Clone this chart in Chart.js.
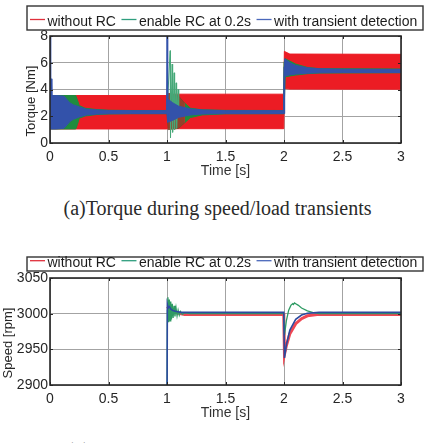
<!DOCTYPE html>
<html><head><meta charset="utf-8">
<script src="https://cdn.jsdelivr.net/npm/chart.js@4.4.1/dist/chart.umd.min.js"></script>
<style>
html,body{margin:0;padding:0;background:#fff;overflow:hidden;width:429px;height:443px;}
#wrap{position:relative;width:429px;height:443px;overflow:hidden;}
canvas{position:absolute;left:0;}
.cap{position:absolute;left:3px;width:429px;text-align:center;font-family:'Liberation Serif','Times New Roman',serif;font-size:20px;line-height:18px;color:#2a2a2a;white-space:nowrap;}
</style></head><body>
<div id="wrap">
<canvas id="c1" width="429" height="195" style="top:0px"></canvas>
<div class="cap" style="top:199px">(a)Torque during speed/load transients</div>
<canvas id="c2" width="429" height="195" style="top:242px"></canvas>
<div class="cap" style="top:441px">(b)Speed during speed/load transients</div>
</div>
<script>
// ---------- labels / ticks ----------
const seriesNames = ['without RC', 'enable RC at 0.2s', 'with transient detection'];
const xTicks = [0, 0.5, 1, 1.5, 2, 2.5, 3];
const torqueTicks = [0, 2, 4, 6, 8];
const speedTicks = [2900, 2950, 3000, 3050];

// ---------- torque (envelopes of the dense ripple) ----------
// without RC
const tRed   = [0, 0.998, 1.004, 1.05, 1.998, 2.003, 2.05, 3.0];
const redHi  = [3.55, 3.55, 3.72, 3.65, 3.65, 6.85, 6.65, 6.63];
const redLo  = [1.05, 1.05, 1.06, 1.07, 1.07, 4.08, 4.03, 4.02];
// enable RC at 0.2s
const tGreen  = [0, 0.22, 0.235, 0.25, 0.3, 0.4, 0.5, 0.7, 0.996, 1.0, 1.01, 1.1, 1.15, 1.2, 1.3, 1.5, 1.996, 2.0, 2.01, 2.1, 2.2, 2.3, 3.0];
const greenHi = [3.55, 3.55, 3.2, 2.8, 2.6, 2.5, 2.45, 2.43, 2.43, 2.43, 3.7, 3.5, 3.0, 2.6, 2.48, 2.44, 2.43, 6.0, 6.3, 5.9, 5.65, 5.56, 5.53];
const greenLo = [1.05, 1.05, 1.4, 1.85, 2.02, 2.13, 2.17, 2.19, 2.19, 2.19, 1.0, 1.1, 1.5, 1.9, 2.1, 2.18, 2.19, 2.19, 4.95, 5.08, 5.18, 5.23, 5.25];
const tGreenSpike = [1.0, 1.004, 1.027, 1.03, 1.035, 1.044, 1.048, 1.053, 1.061, 1.065, 1.07, 1.078, 1.082, 1.087, 1.095, 1.1];
const greenSpike  = [2.3, 2.3, 6.9, 0.4, 2.3, 5.9, 0.8, 2.3, 5.25, 1.0, 2.3, 4.5, 1.1, 2.3, 4.0, 2.3];
// with transient detection
const tBlue  = [0, 0.004, 0.008, 0.012, 0.016, 0.05, 0.12, 0.145, 0.17, 0.2, 0.25, 0.31, 0.4, 0.5, 0.7, 0.996, 1.0, 1.006, 1.05, 1.1, 1.2, 1.3, 1.5, 1.996, 2.0, 2.006, 2.05, 2.1, 2.2, 2.3, 2.5, 3.0];
const blueHi = [8, 8, 3.55, 4.8, 3.55, 3.55, 3.5, 3.25, 3.0, 2.85, 2.7, 2.53, 2.47, 2.43, 2.42, 2.42, 8, 3.3, 3.0, 2.75, 2.55, 2.47, 2.42, 2.42, 5.7, 6.3, 6.0, 5.8, 5.62, 5.55, 5.52, 5.5];
const blueLo = [1.05, 1.05, 1.05, 1.05, 1.05, 1.05, 1.1, 1.35, 1.6, 1.77, 1.95, 2.09, 2.16, 2.19, 2.2, 2.2, 2.2, 1.55, 1.7, 1.92, 2.1, 2.17, 2.2, 2.2, 2.2, 5.0, 5.1, 5.15, 5.22, 5.25, 5.27, 5.27];

// ---------- speed ----------
const tSpeedRed = [1.003, 1.02, 1.05, 1.1, 1.15, 1.998, 2.004, 2.02, 2.05, 2.1, 2.15, 2.2, 2.3, 3.0];
const speedRed  = [3010, 3006, 3003, 3000.5, 2999, 2999, 2943, 2955, 2972, 2986, 2993, 2997, 2999, 2999];
const tSpeedGreen = [0, 0.999, 1.003, 1.008, 1.014, 1.02, 1.026, 1.032, 1.038, 1.045, 1.052, 1.06, 1.068, 1.077, 1.086, 1.095, 1.105, 1.115, 1.13, 1.15, 1.2, 1.998, 2.004, 2.02, 2.04, 2.06, 2.075, 2.08, 2.09, 2.1, 2.12, 2.15, 2.2, 2.25, 2.3, 3.0];
const speedGreen  = [2800, 2800, 3005, 3023, 2988, 3020, 2990, 3017, 2992, 3014, 2994, 3011, 2996, 3008, 2997, 3005, 2998, 3003, 2999, 3001, 3000, 3000, 2970, 2990, 3005, 3012, 3014, 3013, 3015, 3014, 3012, 3008, 3004, 3001.5, 3000, 3000];
const tSpeedBlue = [0, 0.999, 1.003, 1.01, 1.02, 1.035, 1.05, 1.08, 1.12, 1.998, 2.004, 2.02, 2.05, 2.1, 2.15, 2.2, 2.3, 3.0];
const speedBlue  = [2800, 2800, 3013, 3008, 3010, 3006, 3004.5, 3003, 3001.8, 3001.8, 2938, 2956, 2977, 2992, 2998, 3000.5, 3001.8, 3001.8];

// ---------- helpers ----------
const FONT = '"Liberation Sans", Arial, Helvetica, sans-serif';
const legendColors = ['#e0303c', '#2f9e7e', '#4a68bb'];
function pts(t, v) { return t.map((x, i) => ({x: x, y: v[i]})); }

const framePlugin = {
  id: 'frame',
  afterDraw(chart, args, o) {
    const ctx = chart.ctx, a = chart.chartArea;
    ctx.save();
    ctx.strokeStyle = '#262626'; ctx.lineWidth = 1;
    const xs = chart.scales.x, ys = chart.scales.y;
    xs.ticks.forEach(tk => {
      const px = Math.round(xs.getPixelForValue(tk.value)) + 0.5;
      ctx.beginPath(); ctx.moveTo(px, a.bottom); ctx.lineTo(px, a.bottom - 3);
      ctx.moveTo(px, a.top); ctx.lineTo(px, a.top + 3); ctx.stroke();
    });
    ys.ticks.forEach(tk => {
      const py = Math.round(ys.getPixelForValue(tk.value)) + 0.5;
      ctx.beginPath(); ctx.moveTo(a.left, py); ctx.lineTo(a.left + 3, py);
      ctx.moveTo(a.right, py); ctx.lineTo(a.right - 3, py); ctx.stroke();
    });
    ctx.strokeStyle = '#262626'; ctx.lineWidth = 1.6;
    ctx.strokeRect(a.left, a.top, a.right - a.left, a.bottom - a.top);
    ctx.lineWidth = 1.4; ctx.strokeStyle = '#333';
    ctx.strokeRect(o.boxLeft, o.boxTop, o.boxRight - o.boxLeft, o.boxBottom - o.boxTop);
    ctx.font = '14px ' + FONT;
    ctx.textBaseline = 'alphabetic'; ctx.textAlign = 'left';
    let x = 30;
    seriesNames.forEach((name, i) => {
      ctx.strokeStyle = legendColors[i]; ctx.lineWidth = 1.3;
      ctx.beginPath(); ctx.moveTo(x, o.lineY); ctx.lineTo(x + 15, o.lineY); ctx.stroke();
      x += 17.5;
      ctx.fillStyle = '#1c1c1c';
      ctx.fillText(name, x, o.baseline);
      x += ctx.measureText(name).width + 5.5;
    });
    ctx.translate(o.yTitleX, o.yTitleY); ctx.rotate(-Math.PI / 2);
    ctx.textAlign = 'center'; ctx.textBaseline = 'middle';
    ctx.font = '13px ' + FONT; ctx.fillStyle = '#262626';
    ctx.fillText(o.yTitle, 0, 0);
    ctx.restore();
  }
};

function baseOptions(yMin, yMax, yTickArr, frameOpts) {
  return {
    responsive: false, animation: false, devicePixelRatio: 1,
    layout: {padding: {left: 0, right: 28, top: 36, bottom: 15}},
    plugins: {legend: {display: false}, tooltip: {enabled: false}, frame: frameOpts},
    elements: {point: {radius: 0, hoverRadius: 0}, line: {tension: 0, borderWidth: 1}},
    scales: {
      x: {
        type: 'linear', min: 0, max: 3,
        afterBuildTicks: s => { s.ticks = xTicks.map(v => ({value: v})); },
        afterFit: s => { s.height = 37; },
        grid: {color: '#a3a3a3', lineWidth: 1, drawTicks: false},
        border: {display: false},
        ticks: {padding: 6, color: '#262626', font: {size: 14, family: FONT}, maxRotation: 0, autoSkip: false,
                callback: v => String(v)},
        title: {display: true, text: 'Time [s]', color: '#333', font: {size: 14, family: FONT}, padding: 0}
      },
      y: {
        type: 'linear', min: yMin, max: yMax,
        afterBuildTicks: s => { s.ticks = yTickArr.map(v => ({value: v})); },
        afterFit: s => { s.width = 50; },
        grid: {color: '#a3a3a3', lineWidth: 1, drawTicks: false},
        border: {display: false},
        ticks: {padding: 2, color: '#262626', font: {size: 14, family: FONT}, autoSkip: false,
                callback: v => String(v)}
      }
    }
  };
}

const RED = '#ec1c24', GREEN = '#1f8c3e', GREEN_L = '#46a878', BLUE = '#3352aa';
const mixedGreen = c => (c.p0.parsed.x >= 1.0 && c.p1.parsed.x <= 1.15) ? 'rgba(40,110,50,0.45)' : undefined;

new Chart(document.getElementById('c1'), {
  type: 'line',
  data: {
    datasets: [
      {data: pts(tBlue, blueHi), borderColor: BLUE, backgroundColor: BLUE, fill: false, clip: 0},
      {data: pts(tBlue, blueLo), borderColor: BLUE, backgroundColor: BLUE, fill: 0, clip: 0},
      {data: pts(tGreenSpike, greenSpike), borderColor: GREEN_L, borderWidth: 1, fill: false, clip: 0},
      {data: pts(tGreen, greenHi), borderColor: GREEN, backgroundColor: GREEN, fill: false, clip: 0,
       segment: {borderColor: c => mixedGreen(c) ? 'rgba(120,70,40,0.8)' : undefined}},
      {data: pts(tGreen, greenLo), borderColor: GREEN, backgroundColor: GREEN, fill: 3, clip: 0,
       segment: {backgroundColor: mixedGreen, borderColor: c => mixedGreen(c) ? 'rgba(120,70,40,0.8)' : undefined}},
      {data: pts(tRed, redHi), borderColor: RED, backgroundColor: RED, fill: false, clip: 0},
      {data: pts(tRed, redLo), borderColor: RED, backgroundColor: RED, fill: 5, clip: 0}
    ]
  },
  options: baseOptions(0, 8, torqueTicks,
    {boxLeft: 27, boxRight: 423, boxTop: 6, boxBottom: 30, lineY: 19.5, baseline: 26,
     yTitle: 'Torque [Nm]', yTitleX: 31, yTitleY: 101}),
  plugins: [framePlugin]
});

new Chart(document.getElementById('c2'), {
  type: 'line',
  data: {
    datasets: [
      {data: pts(tSpeedBlue, speedBlue), borderColor: '#2d4a9e', borderWidth: 1.6, fill: false, clip: 0},
      {data: pts(tSpeedGreen, speedGreen), borderColor: '#2e9b63', borderWidth: 1.3, fill: false, clip: 0},
      {data: pts(tSpeedRed, speedRed), borderColor: '#ef4753', borderWidth: 3, fill: false, clip: 0}
    ]
  },
  options: baseOptions(2900, 3050, speedTicks,
    {boxLeft: 27, boxRight: 423, boxTop: 15, boxBottom: 29, lineY: 18.7, baseline: 25,
     yTitle: 'Speed [rpm]', yTitleX: 8, yTitleY: 101}),
  plugins: [framePlugin]
});
</script>
</body></html>
